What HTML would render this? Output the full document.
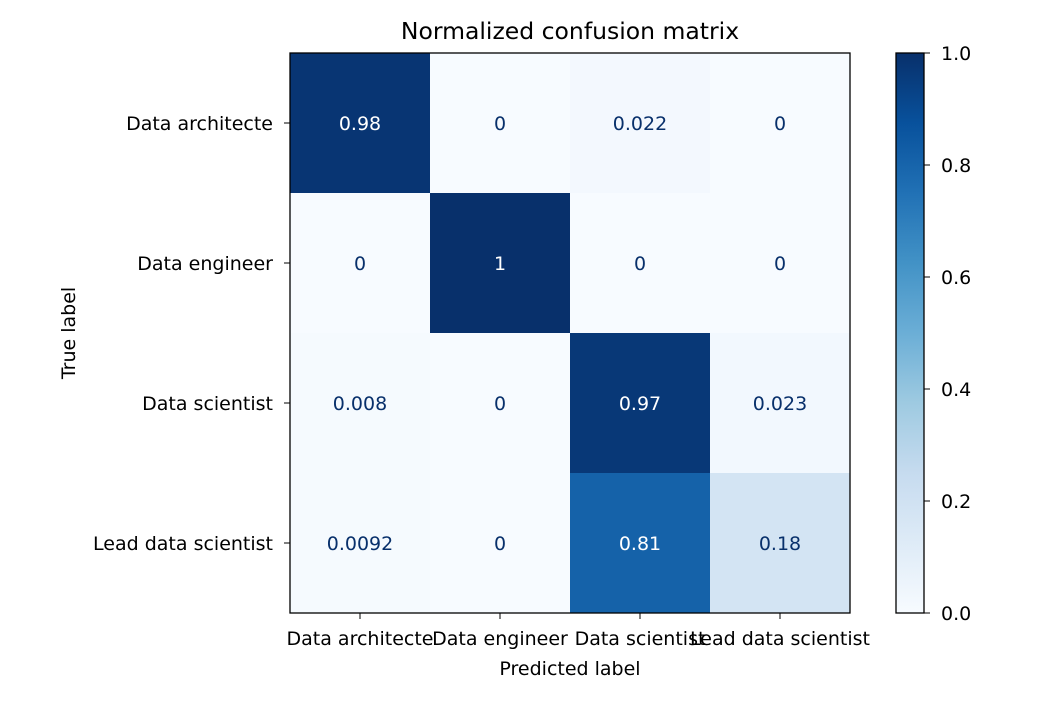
<!DOCTYPE html>
<html><head><meta charset="utf-8"><style>
body{margin:0;background:#fff;}
svg{font-family:"DejaVu Sans","Liberation Sans",sans-serif;}
</style></head><body>
<svg id="chart" width="1050" height="700" xmlns="http://www.w3.org/2000/svg">
<defs>
<linearGradient id="cbgrad" x1="0" y1="1" x2="0" y2="0">
<stop offset="0" stop-color="#f7fbff"/><stop offset="0.125" stop-color="#deebf7"/><stop offset="0.25" stop-color="#c6dbef"/><stop offset="0.375" stop-color="#9ecae1"/><stop offset="0.5" stop-color="#6baed6"/><stop offset="0.625" stop-color="#4292c6"/><stop offset="0.75" stop-color="#2171b5"/><stop offset="0.875" stop-color="#08519c"/><stop offset="1" stop-color="#08306b"/>
</linearGradient>
</defs>
<text x="570" y="39" text-anchor="middle" font-size="23.5">Normalized confusion matrix</text>
<g id="cells"></g>
<rect x="290" y="53" width="560" height="560" fill="none" stroke="#000" stroke-width="1.3"/>
<g id="ticks"></g>
<text x="570" y="675" text-anchor="middle" font-size="19">Predicted label</text>
<text transform="translate(75,333) rotate(-90)" text-anchor="middle" font-size="19">True label</text>
<rect x="896" y="53" width="28" height="560" fill="url(#cbgrad)" stroke="#000" stroke-width="1.3"/>
<g id="cbticks"></g>
</svg>
<script>
const labels = ["Data architecte","Data engineer","Data scientist","Lead data scientist"];
const values = [
 [0.98,0,0.022,0],
 [0,1,0,0],
 [0.008,0,0.97,0.023],
 [0.0092,0,0.81,0.18]
];
const display = [
 ["0.98","0","0.022","0"],
 ["0","1","0","0"],
 ["0.008","0","0.97","0.023"],
 ["0.0092","0","0.81","0.18"]
];
const cbTicks = [0,0.2,0.4,0.6,0.8,1.0];
const cbTickLabels = ["0.0","0.2","0.4","0.6","0.8","1.0"];

const NS="http://www.w3.org/2000/svg";
const x0=290,y0=53,size=560,n=labels.length,cw=size/n;
const FS=19;
const stops=["#f7fbff","#deebf7","#c6dbef","#9ecae1","#6baed6","#4292c6","#2171b5","#08519c","#08306b"];
function hex(h){return [1,3,5].map(i=>parseInt(h.substr(i,2),16));}
function blues(v){v=Math.max(0,Math.min(1,v));const p=v*8,i=Math.min(7,Math.floor(p)),t=p-i;const a=hex(stops[i]),b=hex(stops[i+1]);return "rgb("+a.map((c,k)=>Math.round(c+(b[k]-c)*t)).join(",")+")";}
function mk(tag,attrs,parent){const e=document.createElementNS(NS,tag);for(const k in attrs)e.setAttribute(k,attrs[k]);parent.appendChild(e);return e;}
const cells=document.getElementById("cells"),ticks=document.getElementById("ticks"),cbt=document.getElementById("cbticks");
const vmax=Math.max(...values.flat()),vmin=Math.min(...values.flat());
for(let r=0;r<n;r++)for(let c=0;c<n;c++){
 const v=values[r][c];
 const rc=mk("rect",{x:x0+c*cw,y:y0+r*cw,width:cw+0.5,height:cw+0.5,fill:blues((v-vmin)/(vmax-vmin))},cells);
 
 
 const t=mk("text",{x:x0+c*cw+cw/2,y:y0+r*cw+cw/2+7,"text-anchor":"middle","font-size":FS,fill:(v>(vmax+vmin)/2)?"#fff":"#08306b"},cells);
 t.textContent=display[r][c];
 
 
}
labels.forEach((l,i)=>{
 const cx=x0+i*cw+cw/2, cy=y0+i*cw+cw/2;
 mk("line",{x1:cx,y1:613,x2:cx,y2:619,stroke:"#000","stroke-width":1},ticks);
 const tx=mk("text",{x:cx,y:645,"text-anchor":"middle","font-size":FS},ticks);
 tx.textContent=l;
 
 
 mk("line",{x1:284,y1:cy,x2:290,y2:cy,stroke:"#000","stroke-width":1},ticks);
 const ty=mk("text",{x:273,y:cy+7,"text-anchor":"end","font-size":FS},ticks);
 ty.textContent=l;
 
 
});
cbTicks.forEach((v,i)=>{
 const y=613-v*560;
 mk("line",{x1:924,y1:y,x2:930,y2:y,stroke:"#000","stroke-width":1},cbt);
 const t=mk("text",{x:941,y:y+7,"font-size":FS},cbt);
 t.textContent=cbTickLabels[i];
 
 
});
</script>
</body></html>
